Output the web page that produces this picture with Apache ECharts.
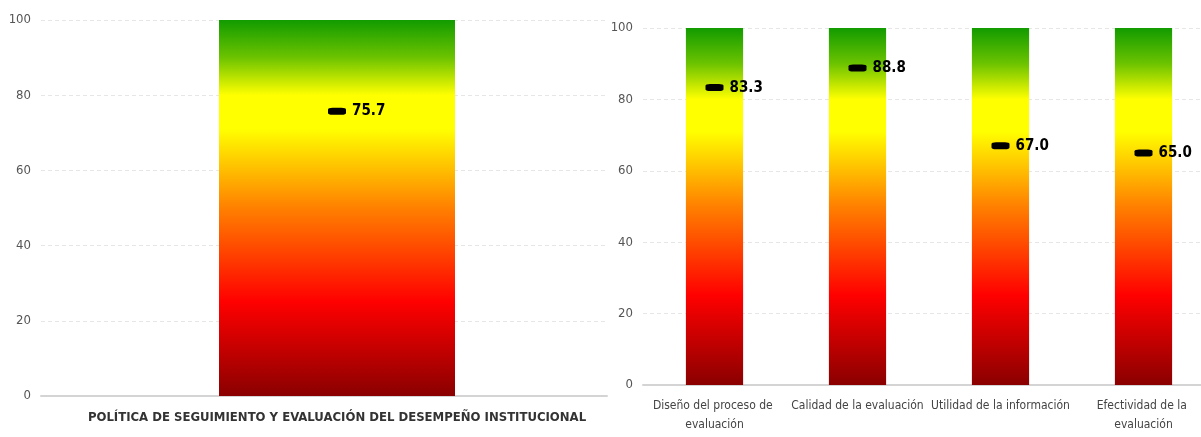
<!DOCTYPE html>
<html>
<head>
<meta charset="utf-8">
<script src="https://cdn.jsdelivr.net/npm/echarts@6/dist/echarts.min.js"></script>
<style>
  html, body { margin: 0; padding: 0; background: #fff; }
  #chart { width: 1201px; height: 437px; }
</style>
</head>
<body>
<div id="chart"></div>
<script>
// datos
var politica = ["POLÍTICA DE SEGUIMIENTO Y EVALUACIÓN DEL DESEMPEÑO INSTITUCIONAL"];
var politicaValor = [75.7];
var componentes = ["Diseño del proceso de evaluación", "Calidad de la evaluación", "Utilidad de la información", "Efectividad de la evaluación"];
var componentesValor = [83.3, 88.8, 67.0, 65.0];
var escalaMax = 100;
var ticks = [0, 20, 40, 60, 80, 100];

var font = "'DejaVu Sans Condensed', 'Liberation Sans', sans-serif";

// degradado verde -> amarillo -> rojo
var semaforo = new echarts.graphic.LinearGradient(0, 0, 0, 1, [
  { offset: 0, color: "#129b00" },
  { offset: 0.1, color: "#6cc300" },
  { offset: 0.2, color: "#ffff00" },
  { offset: 0.29, color: "#ffff00" },
  { offset: 0.5, color: "#ff8000" },
  { offset: 0.75, color: "#ff0000" },
  { offset: 1, color: "#8a0000" },
]);

var myChart = echarts.init(document.getElementById("chart"));

function yAxis(idx, show) {
  return {
    type: "value",
    gridIndex: idx,
    min: 0,
    max: escalaMax,
    interval: 20,
    show: show,
    axisLine: { show: false },
    axisTick: { show: false },
    axisLabel: {
      color: "#555",
      fontFamily: font,
      fontSize: 13,
      margin: 10,
      formatter: function (v) { return ticks.indexOf(v) >= 0 ? v : ""; },
    },
    splitLine: { lineStyle: { color: "#e6e6e6", type: [4, 3] } },
  };
}

function marker(idx, data) {
  return {
    type: "scatter",
    xAxisIndex: idx,
    yAxisIndex: idx,
    data: data,
    symbol: "roundRect",
    symbolSize: [18, 7],
    itemStyle: { color: "#000", opacity: 1 },
    z: 5,
    label: {
      show: true,
      position: "right",
      distance: 6,
      color: "#000",
      fontFamily: font,
      fontWeight: "bold",
      fontSize: 15,
      formatter: function (p) { return p.value.toFixed(1); },
    },
  };
}

var option = {
  animation: false,
  grid: [
    // 0: fondo del grafico izquierdo (lineas y eje)
    { left: 41, top: 20, width: 566, height: 376, outerBoundsMode: "none" },
    // 1: grafico derecho
    { left: 643, top: 28, width: 572, height: 357, outerBoundsMode: "none" },
    // 2: barra izquierda (un poco desplazada a la derecha como en el original)
    { left: 41, top: 20, width: 592, height: 376, outerBoundsMode: "none" },
  ],
  xAxis: [
    {
      type: "category",
      gridIndex: 0,
      data: [""],
      axisTick: { show: false },
      axisLabel: { show: false },
      axisLine: { lineStyle: { color: "#d4d4d4", width: 2 } },
    },
    {
      type: "category",
      gridIndex: 1,
      data: componentes,
      axisTick: { show: false },
      axisLine: { lineStyle: { color: "#d4d4d4", width: 2 } },
      axisLabel: {
        interval: 0,
        color: "#444",
        fontFamily: font,
        fontSize: 12,
        lineHeight: 19,
        margin: 11,
        width: 154,
        overflow: "break",
      },
    },
    {
      type: "category",
      gridIndex: 2,
      data: politica,
      axisTick: { show: false },
      axisLine: { show: false },
      axisLabel: { color: "#333", fontFamily: font, fontSize: 13, fontWeight: "bold", margin: 15 },
    },
  ],
  yAxis: [yAxis(0, true), yAxis(1, true), yAxis(2, false)],
  series: [
    {
      type: "bar",
      xAxisIndex: 2,
      yAxisIndex: 2,
      data: politica.map(function () { return escalaMax; }),
      barWidth: 236,
      itemStyle: { color: semaforo },
      silent: true,
    },
    marker(2, politicaValor),
    {
      type: "bar",
      xAxisIndex: 1,
      yAxisIndex: 1,
      data: componentes.map(function () { return escalaMax; }),
      barWidth: "40%",
      itemStyle: { color: semaforo },
      silent: true,
    },
    marker(1, componentesValor),
  ],
};

myChart.setOption(option);
window.onresize = function () {
  myChart.resize();
};
</script>
</body>
</html>
